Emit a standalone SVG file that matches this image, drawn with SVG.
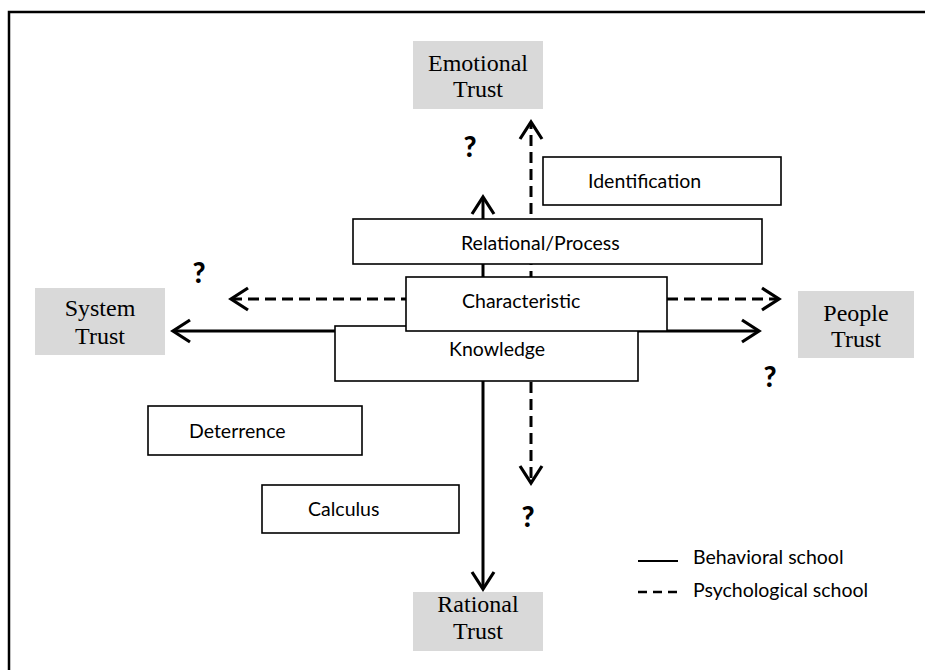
<svg xmlns="http://www.w3.org/2000/svg" width="925" height="670" viewBox="0 0 925 670">
  <style>
    .frame { stroke: #000; stroke-width: 2.5; fill: none; }
    .trust rect { fill: #d9d9d9; stroke: none; }
    .trust text { font-family: "Liberation Serif", "Times New Roman", serif; font-size: 24px; fill: #000; text-anchor: middle; }
    .box rect { fill: #fff; stroke: #000; stroke-width: 1.6; }
    .box text, .legend text { font-family: Lato, "Open Sans", sans-serif; font-size: 19.5px; fill: #000; }
    .solid { stroke: #000; stroke-width: 3; fill: none; }
    .dashed { stroke: #000; stroke-width: 3; fill: none; stroke-dasharray: 11 6; }
    .q { font-family: Lato, "Liberation Sans", sans-serif; font-weight: 900; font-size: 28px; fill: #000; text-anchor: middle; }
  </style>
  <defs>
    <marker id="chev" markerUnits="userSpaceOnUse" markerWidth="24" markerHeight="26" viewBox="-20 -13 24 26" refX="0" refY="0" orient="auto" overflow="visible">
      <path d="M -17 -11 L 0 0 L -17 11" fill="none" stroke="#000" stroke-width="3.2"/>
    </marker>
  </defs>

  <rect width="925" height="670" fill="#fff"/>
  <!-- page frame: top and left edges -->
  <path class="frame" d="M 9 670 L 9 12 L 925 12"/>

  <!-- connectors (drawn below the boxes) -->
  <g id="connectors">
    <line class="solid" x1="483" y1="331" x2="483" y2="197" marker-end="url(#chev)"/>
    <line class="solid" x1="483" y1="331" x2="483" y2="589" marker-end="url(#chev)"/>
    <line class="solid" x1="483" y1="331" x2="173" y2="331" marker-end="url(#chev)"/>
    <line class="solid" x1="483" y1="331" x2="759" y2="331" marker-end="url(#chev)"/>
    <line class="dashed" x1="531" y1="299" x2="531" y2="122" marker-end="url(#chev)"/>
    <line class="dashed" x1="531" y1="382" x2="531" y2="483" marker-end="url(#chev)"/>
    <line class="dashed" x1="531" y1="299" x2="231" y2="299" marker-end="url(#chev)"/>
    <line class="dashed" x1="531" y1="299" x2="779" y2="299" marker-end="url(#chev)"/>
  </g>

  <!-- trust categories -->
  <g id="emotional-trust" class="trust">
    <rect x="413" y="41" width="130" height="68"/>
    <text x="478" y="71">Emotional</text>
    <text x="478" y="97">Trust</text>
  </g>
  <g id="system-trust" class="trust">
    <rect x="35" y="288" width="130" height="67"/>
    <text x="100" y="316">System</text>
    <text x="100" y="344">Trust</text>
  </g>
  <g id="people-trust" class="trust">
    <rect x="798" y="291" width="116" height="67"/>
    <text x="856" y="321">People</text>
    <text x="856" y="347">Trust</text>
  </g>
  <g id="rational-trust" class="trust">
    <rect x="413" y="592" width="130" height="59"/>
    <text x="478" y="612">Rational</text>
    <text x="478" y="639">Trust</text>
  </g>

  <!-- trust bases -->
  <g id="identification" class="box">
    <rect x="543" y="157" width="238" height="48"/>
    <text x="588" y="188">Identification</text>
  </g>
  <g id="relational-process" class="box">
    <rect x="353" y="219" width="409" height="45"/>
    <text x="461" y="250">Relational/Process</text>
  </g>
  <g id="knowledge" class="box">
    <rect x="335" y="326" width="303" height="55"/>
    <text x="449" y="356">Knowledge</text>
  </g>
  <g id="characteristic" class="box">
    <rect x="406" y="277" width="261" height="54"/>
    <text x="462" y="308">Characteristic</text>
  </g>
  <g id="deterrence" class="box">
    <rect x="148" y="406" width="214" height="49"/>
    <text x="189" y="438">Deterrence</text>
  </g>
  <g id="calculus" class="box">
    <rect x="262" y="485" width="197" height="48"/>
    <text x="308" y="516">Calculus</text>
  </g>

  <!-- open questions -->
  <g id="questions">
    <text class="q" x="470" y="157">?</text>
    <text class="q" x="199" y="283">?</text>
    <text class="q" x="770" y="387">?</text>
    <text class="q" x="528" y="527">?</text>
  </g>

  <!-- legend -->
  <g id="legend" class="legend">
    <line x1="638" y1="561" x2="678" y2="561" stroke="#000" stroke-width="2.2"/>
    <text x="693" y="564">Behavioral school</text>
    <line x1="638" y1="592" x2="677" y2="592" stroke="#000" stroke-width="2.5" stroke-dasharray="9 6"/>
    <text x="693" y="597">Psychological school</text>
  </g>
</svg>
